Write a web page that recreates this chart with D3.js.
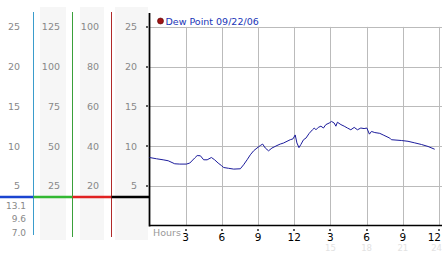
<!DOCTYPE html>
<html>
<head>
<meta charset="utf-8">
<script src="https://cdn.jsdelivr.net/npm/d3@7"></script>
<style>
  body { margin: 0; background: #fff; }
  text { font-family: "DejaVu Sans", Verdana, sans-serif; }
</style>
</head>
<body>
<div id="chart"></div>
<script>
// dew point readings, hour of day -> value
var hours = [0, 0.58, 1.13, 1.55, 2.09, 2.51, 3.06, 3.34, 3.75, 3.95, 4.22, 4.49, 4.78, 5.13, 5.40, 5.69,
  5.96, 6.15, 6.56, 6.98, 7.53, 7.80, 8.09, 8.36, 8.63, 8.91, 9.19, 9.38, 9.60, 9.87, 10.15, 10.57,
  10.84, 11.11, 11.40, 11.67, 11.89, 12.08, 12.22, 12.39, 12.55, 12.77, 12.97, 13.24, 13.51, 13.66,
  13.80, 13.99, 14.21, 14.42, 14.62, 14.90, 15.09, 15.31, 15.45, 15.58, 15.87, 16.14, 16.41, 16.69,
  16.97, 17.24, 17.52, 17.79, 18.02, 18.23, 18.40, 18.68, 19.09, 19.37, 19.92, 20.05, 20.88, 21.43,
  21.99, 22.54, 23.09, 23.64]
var dewPoint = [8.56, 8.4, 8.27, 8.15, 7.77, 7.73, 7.73, 7.86, 8.5, 8.8, 8.78, 8.27, 8.27, 8.56, 8.27, 7.86,
  7.55, 7.3, 7.2, 7.1, 7.14, 7.64, 8.27, 8.9, 9.4, 9.75, 10.07, 10.25, 9.75, 9.4, 9.75, 10.07,
  10.25, 10.38, 10.6, 10.8, 10.9, 11.4, 10.4, 9.8, 10.2, 10.8, 11.0, 11.6, 12.05, 12.27,
  12.05, 12.35, 12.5, 12.27, 12.7, 12.9, 13.1, 12.9, 12.5, 13.0, 12.7, 12.5, 12.27, 12.05,
  12.35, 12.05, 12.27, 12.2, 12.27, 11.5, 11.84, 11.7, 11.6, 11.4, 11.0, 10.8, 10.7, 10.6,
  10.4, 10.2, 9.95, 9.6]

var yTicks = [25, 20, 15, 10, 5]
var col1Labels = ["25", "20", "15", "10", "5"]
var col2Labels = ["125", "100", "75", "50", "25"]
var col3Labels = ["100", "80", "60", "40", "20"]
var col4Labels = ["25", "20", "15", "10", "5"]
var statLabels = ["13.1", "9.6", "7.0"]
var xTicks = [3, 6, 9, 12, 15, 18, 21, 24]
var xTickLabels = ["3", "6", "9", "12", "3", "6", "9", "12"]
var xTick24 = ["", "", "", "", "15", "18", "21", "24"]
var currentLevel = 3.6
var legendText = "Dew Point 09/22/06"

var svgSize = { width: 442, height: 253 }

var svg = d3.select("#chart").append("svg")
    .attr("width", svgSize.width)
    .attr("height", svgSize.height)

var xScale = d3.scaleLinear().domain([0, 24]).range([149.5, 439])
var yScale = d3.scaleLinear().domain([0, 26.75]).range([225.5, 13])

// left panel gray bands
var bands = [[40, 66], [80, 104], [115, 148]]
svg.selectAll("rect.band").data(bands).enter().append("rect")
    .attr("x", d => d[0]).attr("width", d => d[1] - d[0])
    .attr("y", 7).attr("height", 233)
    .attr("fill", "#f6f6f6")

// left panel vertical lines
var vlines = [{ x: 33.5, c: "#3a9ccc", b: 235 }, { x: 72.5, c: "#3aa03a", b: 237 }, { x: 111.5, c: "#b02a2a", b: 237 }]
svg.selectAll("line.vl").data(vlines).enter().append("line")
    .attr("x1", d => d.x).attr("x2", d => d.x)
    .attr("y1", 12).attr("y2", d => d.b)
    .attr("stroke", d => d.c).attr("stroke-width", 1)

// column labels
var cols = [{ x: 20, labels: col1Labels }, { x: 60, labels: col2Labels }, { x: 99, labels: col3Labels }, { x: 137, labels: col4Labels }]
cols.forEach(col => {
    svg.append("g").selectAll("text").data(yTicks).enter().append("text")
        .attr("x", col.x)
        .attr("y", d => yScale(d) + 3.5)
        .attr("text-anchor", "end")
        .attr("font-size", "9.5px")
        .attr("fill", "#888")
        .text((d, i) => col.labels[i])
})

svg.selectAll("text.stat").data(statLabels).enter().append("text")
    .attr("x", 26)
    .attr("y", (d, i) => 208.5 + i * 13.5)
    .attr("text-anchor", "end")
    .attr("font-size", "9px")
    .attr("fill", "#888")
    .text(d => d)

// horizontal level line across columns
var levelSegs = [[0, 33.5, "#1a44d0"], [33.5, 72.5, "#33b833"], [72.5, 111.5, "#e02222"], [111.5, 149.5, "#000"]]
svg.selectAll("line.level").data(levelSegs).enter().append("line")
    .attr("x1", d => d[0]).attr("x2", d => d[1])
    .attr("y1", yScale(currentLevel)).attr("y2", yScale(currentLevel))
    .attr("stroke", d => d[2]).attr("stroke-width", 2.5)

// grid
var frame = svg.append("g")
frame.selectAll("line.hg").data(yTicks).enter().append("line")
    .attr("x1", xScale(0)).attr("x2", 442)
    .attr("y1", d => Math.round(yScale(d)) + 0.5).attr("y2", d => Math.round(yScale(d)) + 0.5)
    .attr("stroke", "#bbb")
frame.selectAll("line.vg").data(xTicks).enter().append("line")
    .attr("x1", d => Math.round(xScale(d)) + 0.5).attr("x2", d => Math.round(xScale(d)) + 0.5)
    .attr("y1", yScale(25)).attr("y2", yScale(0))
    .attr("stroke", "#bbb")

// small tick markers
frame.selectAll("path.ym").data(yTicks).enter().append("path")
    .attr("d", d => {
        var x = 146, y = Math.round(yScale(d))
        return `M${x},${y - 1}l2,2M${x + 2},${y - 1}l-2,2`
    })
    .attr("stroke", "#333").attr("stroke-width", 0.8)
frame.selectAll("path.xm").data(xTicks).enter().append("path")
    .attr("d", d => {
        var x = Math.round(xScale(d)), y = 230
        return `M${x - 1},${y - 1}l2,2M${x + 1},${y - 1}l-2,2`
    })
    .attr("stroke", "#333").attr("stroke-width", 0.8)

// axes
frame.append("line")
    .attr("x1", xScale(0)).attr("x2", xScale(0))
    .attr("y1", 13).attr("y2", yScale(0) + 1)
    .attr("stroke", "#000").attr("stroke-width", 1.8)
frame.append("line")
    .attr("x1", xScale(0)).attr("x2", 442)
    .attr("y1", yScale(0)).attr("y2", yScale(0))
    .attr("stroke", "#000").attr("stroke-width", 1.6)

// x labels
frame.append("text").attr("x", 153).attr("y", 236)
    .attr("font-size", "9.5px").attr("fill", "#999").text("Hours")
frame.selectAll("text.xl").data(xTicks).enter().append("text")
    .attr("x", d => d === 24 ? 441 : xScale(d))
    .attr("y", 241)
    .attr("text-anchor", d => d === 24 ? "end" : "middle")
    .attr("font-size", "10.5px").attr("fill", "#000")
    .text((d, i) => xTickLabels[i])
frame.selectAll("text.xl2").data(xTicks).enter().append("text")
    .attr("x", d => d === 24 ? 442 : xScale(d))
    .attr("y", 251)
    .attr("text-anchor", d => d === 24 ? "end" : "middle")
    .attr("font-size", "8.5px").attr("fill", "#e2e2e2")
    .text((d, i) => xTick24[i])

// dew point line
var line = d3.line()
    .x((d, i) => xScale(hours[i]))
    .y(d => yScale(d))
frame.append("path").datum(dewPoint)
    .attr("d", line)
    .attr("fill", "none")
    .attr("stroke", "#1c1c9c")
    .attr("stroke-width", 1)

// legend
frame.append("circle").attr("cx", 160.5).attr("cy", 21).attr("r", 3)
    .attr("fill", "#a01414").attr("stroke", "#500").attr("stroke-width", 0.6)
frame.append("text").attr("x", 165.5).attr("y", 24.5)
    .attr("font-size", "9.5px").attr("fill", "#1a36b8")
    .text(legendText)
</script>
</body>
</html>
